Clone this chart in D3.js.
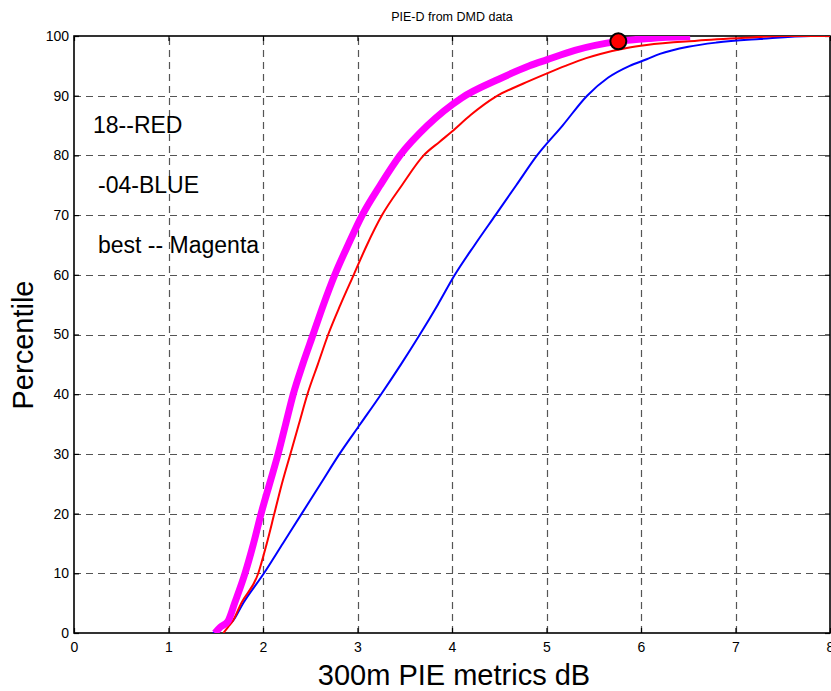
<!DOCTYPE html>
<html><head><meta charset="utf-8">
<script src="https://cdn.jsdelivr.net/npm/d3@7"></script>
<style>
html,body{margin:0;padding:0;background:#fff;}
text{font-family:"Liberation Sans",Arial,Helvetica,sans-serif;}
</style></head>
<body>
<svg id="chart" width="831" height="691"></svg>
<script>
// ---- data ----
const xTicks = [0,1,2,3,4,5,6,7,8];
const yTicks = [0,10,20,30,40,50,60,70,80,90,100];
const titleText = "PIE-D from DMD data";
const xLabel = "300m PIE metrics dB";
const yLabel = "Percentile";
const notes = ["18--RED", "-04-BLUE", "best -- Magenta"];

// [dB, percentile]
const blueSeries = [[1.47,0],[1.58,1],[1.68,2],[1.79,5],[2.01,10],[2.21,15],[2.41,20],[2.61,25],[2.81,30],[3.03,35],[3.25,40],[3.46,45],[3.66,50],[3.85,55],[4.03,60],[4.24,65],[4.46,70],[4.68,75],[4.9,80],[5.17,85],[5.43,90],[5.65,93],[5.88,95],[6.06,96.1],[6.2,97],[6.5,98.2],[6.8,98.9],[7.26,99.5],[7.8,100],[8,100]];
const redSeries = [[1.58,0],[1.63,1],[1.68,2],[1.77,5],[1.95,10],[2.04,15],[2.12,20],[2.2,25],[2.29,30],[2.38,35],[2.47,40],[2.58,45],[2.69,50],[2.82,55],[2.96,60],[3.1,65],[3.26,70],[3.47,75],[3.7,80],[3.87,82.3],[4.0,84],[4.2,86.8],[4.46,89.8],[4.75,92],[5.0,93.7],[5.2,95],[5.42,96.3],[5.57,97],[5.85,98],[6.06,98.5],[6.59,99.2],[7.12,99.7],[7.5,100],[8,100]];
const magentaSeries = [[1.49,0],[1.55,1],[1.63,2],[1.7,5],[1.81,10],[1.9,15],[1.98,20],[2.07,25],[2.16,30],[2.24,35],[2.32,40],[2.42,45],[2.53,50],[2.64,55],[2.76,60],[2.9,65],[3.05,70],[3.24,75],[3.45,80],[3.74,85],[4.1,89.6],[4.5,92.8],[4.82,95],[5.0,96],[5.3,97.6],[5.76,99.1],[6.1,99.6],[6.52,99.9]];
const markerPoint = [5.76, 99.1];

// ---- layout ----
const svg = d3.select("#chart");
svg.append("rect").attr("width",831).attr("height",691).attr("fill","#fff");
const L=74, R=830, T=36, B=633;
const x = d3.scaleLinear().domain([0,8]).range([L,R]);
const y = d3.scaleLinear().domain([0,100]).range([B,T]);

// grid
const grid = svg.append("g").attr("stroke","#555").attr("stroke-width",1.2).attr("stroke-dasharray","7,5");
grid.selectAll("line.v").data(xTicks.slice(1,-1)).join("line").attr("class","v")
  .attr("x1",d=>Math.round(x(d))+0.5).attr("x2",d=>Math.round(x(d))+0.5).attr("y1",B).attr("y2",T);
grid.selectAll("line.h").data(yTicks.slice(1,-1)).join("line").attr("class","h")
  .attr("y1",d=>Math.round(y(d))+0.5).attr("y2",d=>Math.round(y(d))+0.5).attr("x1",L).attr("x2",R);

// axes
const fs = "14px";
const xa = svg.append("g").attr("transform",`translate(0,${B})`)
  .call(d3.axisBottom(x).tickValues(xTicks).tickFormat(d3.format("d")).tickSize(-5).tickPadding(9));
const ya = svg.append("g").attr("transform",`translate(${L},0)`)
  .call(d3.axisLeft(y).tickValues(yTicks).tickFormat(d3.format("d")).tickSize(-5).tickPadding(5));
const xt = svg.append("g").attr("transform",`translate(0,${T})`)
  .call(d3.axisTop(x).tickValues(xTicks).tickFormat("").tickSize(-5));
const yr = svg.append("g").attr("transform",`translate(${R},0)`)
  .call(d3.axisRight(y).tickValues(yTicks).tickFormat("").tickSize(-5));
[xa,ya,xt,yr].forEach(g=>{
  g.select(".domain").remove();
  g.selectAll("line").attr("stroke","#000").attr("stroke-width",1.2);
  g.selectAll("text").attr("font-size",fs).attr("fill","#000")
   .style("font-family","'Liberation Sans',Arial,sans-serif");
});
// box
svg.append("rect").attr("x",L).attr("y",T).attr("width",R-L).attr("height",B-T)
  .attr("fill","none").attr("stroke","#000").attr("stroke-width",1.6);

// clip
svg.append("clipPath").attr("id","clip").append("rect")
  .attr("x",L).attr("y",T).attr("width",R-L).attr("height",B-T);

const line = d3.line().curve(d3.curveMonotoneX).x(d=>x(d[0])).y(d=>y(d[1]));
const lines = svg.append("g").attr("clip-path","url(#clip)").attr("fill","none").attr("stroke-linejoin","round");
lines.append("path").datum(blueSeries).attr("d",line).attr("stroke","#0000ff").attr("stroke-width",2);
lines.append("path").datum(redSeries).attr("d",line).attr("stroke","#ff0000").attr("stroke-width",2);
lines.append("path").datum(magentaSeries).attr("d",line).attr("stroke","#ff00ff").attr("stroke-width",7);

svg.append("circle").attr("cx",x(markerPoint[0])).attr("cy",y(markerPoint[1])).attr("r",8)
  .attr("fill","#ff0000").attr("stroke","#000").attr("stroke-width",2);

// annotations
const notePos = [[93,133],[98,193],[98,253]];
svg.selectAll("text.note").data(notes).join("text").attr("class","note")
  .attr("x",(d,i)=>notePos[i][0]).attr("y",(d,i)=>notePos[i][1])
  .attr("font-size","23px").attr("fill","#000").text(d=>d);

// title & labels
svg.append("text").attr("x",(L+R)/2).attr("y",21).attr("text-anchor","middle")
  .attr("font-size","12.5px").text(titleText);
svg.append("text").attr("x",454).attr("y",685).attr("text-anchor","middle")
  .attr("font-size","29px").text(xLabel);
svg.append("text").attr("transform",`translate(33,${345}) rotate(-90)`).attr("text-anchor","middle")
  .attr("font-size","29px").text(yLabel);
</script>
</body></html>
